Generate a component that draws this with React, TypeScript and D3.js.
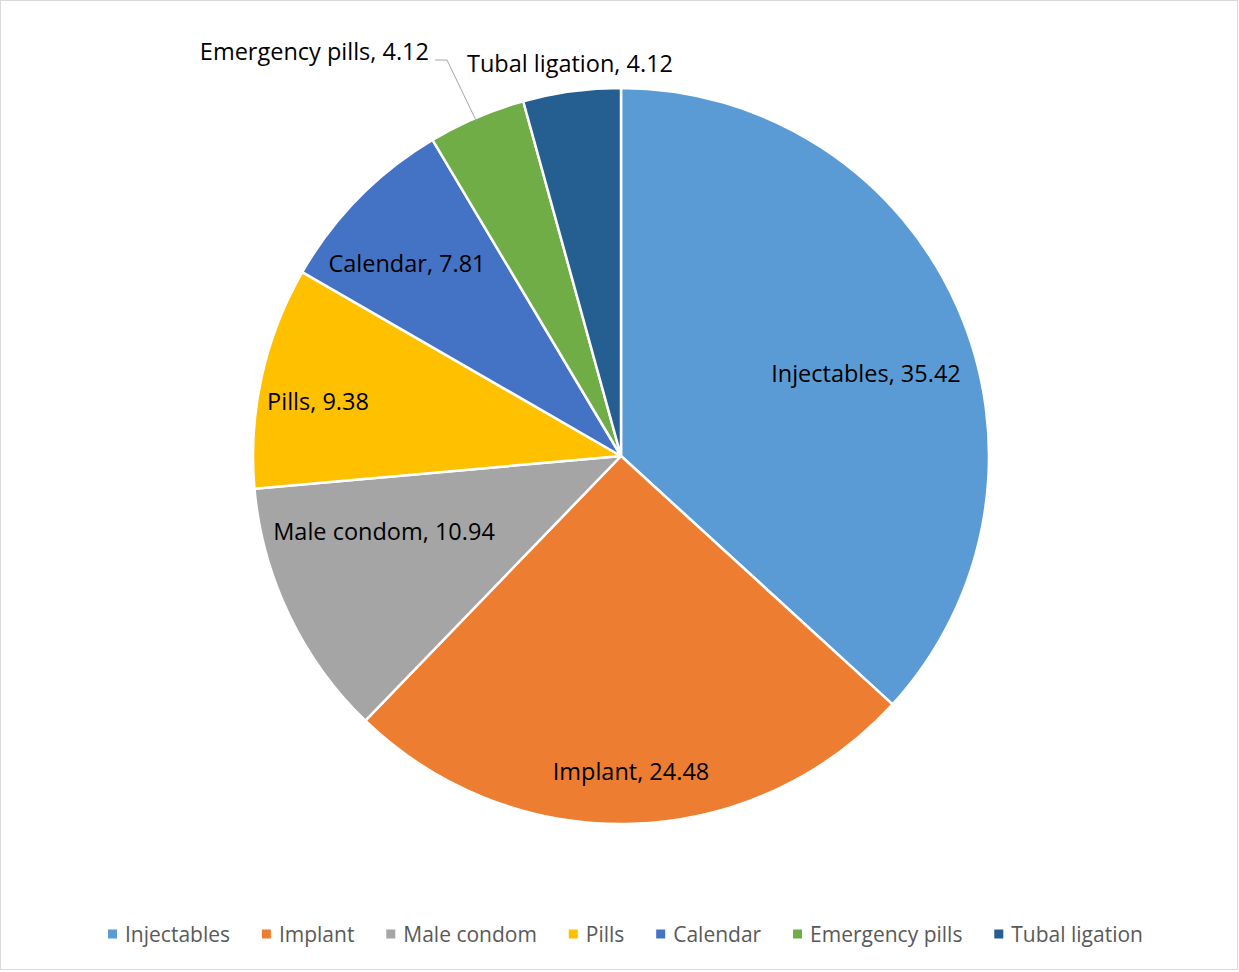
import React, { useEffect, useRef } from "react";
import * as d3 from "d3";

const categories = ["Injectables", "Implant", "Male condom", "Pills", "Calendar", "Emergency pills", "Tubal ligation"];
const values = [35.42, 24.48, 10.94, 9.38, 7.81, 4.12, 4.12];
const colors = ["#5B9BD5", "#ED7D31", "#A5A5A5", "#FFC000", "#4472C4", "#70AD47", "#255E91"];

// label placement relative to pie centre (layout, not data)
const labelOffsets: [number, number, string][] = [
  [245, -83, "middle"],
  [10, 315, "middle"],
  [-237, 75, "middle"],
  [-303, -55, "middle"],
  [-214, -193, "middle"],
  [-192, -405, "end"],
  [-51, -393, "middle"],
];

const W = 1239, H = 972;
const CX = 621, CY = 456, R = 368;
const FONT = "'Open Sans', 'Noto Sans', sans-serif";

export default function App() {
  const ref = useRef<SVGSVGElement>(null);
  useEffect(() => {
    const svg = d3.select(ref.current);
    svg.selectAll("*").remove();
    svg.append("rect").attr("x", 0.5).attr("y", 0.5).attr("width", W - 2).attr("height", H - 3)
      .attr("fill", "#fff").attr("stroke", "#d9d9d9");

    const data = categories.map((c, i) => ({ c, v: values[i], color: colors[i] }));
    const pie = d3.pie<any>().value((d) => d.v).sort(null);
    const arc = d3.arc<any>().innerRadius(0).outerRadius(R);
    const arcs = pie(data);
    const g = svg.append("g").attr("transform", `translate(${CX},${CY})`);
    g.selectAll("path").data(arcs).join("path")
      .attr("d", arc as any).attr("fill", (d: any) => d.data.color)
      .attr("stroke", "#fff").attr("stroke-width", 2.5).attr("stroke-linejoin", "round");

    // leader line for Emergency pills
    const em = arcs[5];
    const mid = (em.startAngle + em.endAngle) / 2;
    const ex = Math.sin(mid) * R, ey = -Math.cos(mid) * R;
    const [lx, ly] = labelOffsets[5];
    g.append("polyline")
      .attr("points", `${lx + 6},${ly + 9} ${lx + 18},${ly + 9} ${ex},${ey + 4}`)
      .attr("fill", "none").attr("stroke", "#a6a6a6").attr("stroke-width", 1);

    arcs.forEach((a: any, i: number) => {
      const [ox, oy, anchor] = labelOffsets[i];
      g.append("text").attr("x", ox).attr("y", oy).attr("text-anchor", anchor)
        .attr("dominant-baseline", "central")
        .attr("font-family", FONT).attr("font-size", 23.5).attr("fill", "#000")
        .text(`${a.data.c}, ${d3.format(".2f")(a.data.v)}`);
    });

    // legend
    const lg = svg.append("g");
    const items = lg.selectAll("g").data(data).join("g");
    items.append("rect").attr("width", 9).attr("height", 9).attr("y", -4.5).attr("fill", (d: any) => d.color);
    items.append("text").attr("x", 17).attr("dominant-baseline", "central")
      .attr("font-family", FONT).attr("font-size", 21).attr("fill", "#595959").text((d: any) => d.c);
    const widths: number[] = [];
    items.each(function () {
      const t = (this as SVGGElement).querySelector("text") as SVGTextElement;
      widths.push(17 + t.getComputedTextLength());
    });
    const span = 1143 - 108;
    const sumW = d3.sum(widths);
    const gap = (span - sumW) / (widths.length - 1);
    let x = 0;
    items.attr("transform", (_d: any, i: number) => {
      const tx = x;
      x += widths[i] + gap;
      return `translate(${tx},0)`;
    });
    lg.attr("transform", `translate(108,934)`);
  }, []);
  return (
    <svg ref={ref} width={W} height={H} style={{ position: "absolute", left: 0, top: 0 }} />
  );
}
